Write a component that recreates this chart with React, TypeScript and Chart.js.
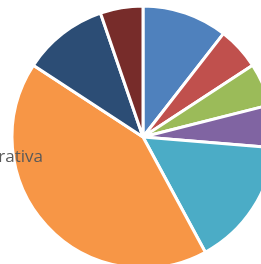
import React, { useEffect, useRef } from "react";
import { Chart, registerables } from "chart.js";

Chart.register(...registerables);

const categories = ["A", "B", "C", "D", "E", "Administrativa", "G", "H"];
const values = [2, 1, 1, 1, 3, 8, 2, 1];
const colors = ["#4F81BD", "#C0504D", "#9BBB59", "#8064A2", "#4BACC6", "#F79646", "#2C4D75", "#772C2A"];
const visibleLabel = ["Administrativa"];

export default function App() {
  const ref = useRef<HTMLCanvasElement | null>(null);
  useEffect(() => {
    if (!ref.current) return;
    const labelPlugin = {
      id: "sideLabel",
      afterDraw(chart: any) {
        const ctx = chart.ctx;
        ctx.save();
        ctx.font = "17px 'Open Sans'";
        ctx.fillStyle = "#595959";
        ctx.textAlign = "right";
        ctx.textBaseline = "alphabetic";
        ctx.fillText(visibleLabel[0], 50, 175);
        ctx.restore();
      },
    };
    const chart = new Chart(ref.current, {
      type: "pie",
      data: {
        labels: categories,
        datasets: [
          {
            data: values,
            backgroundColor: colors,
            borderColor: "#ffffff",
            borderWidth: 3,
          },
        ],
      },
      options: {
        animation: false,
        responsive: false,
        radius: 131,
        layout: { padding: 0 },
        plugins: { legend: { display: false }, tooltip: { enabled: false } },
      },
      plugins: [labelPlugin],
    });
    return () => chart.destroy();
  }, []);
  return (
    <div style={{ position: "fixed", left: 0, top: 0, width: 261, height: 264, overflow: "hidden", background: "#fff" }}>
      <div style={{ position: "absolute", left: -7, top: -13, width: 300, height: 300 }}>
        <canvas ref={ref} width={300} height={300} style={{ width: 300, height: 300 }} />
      </div>
    </div>
  );
}
